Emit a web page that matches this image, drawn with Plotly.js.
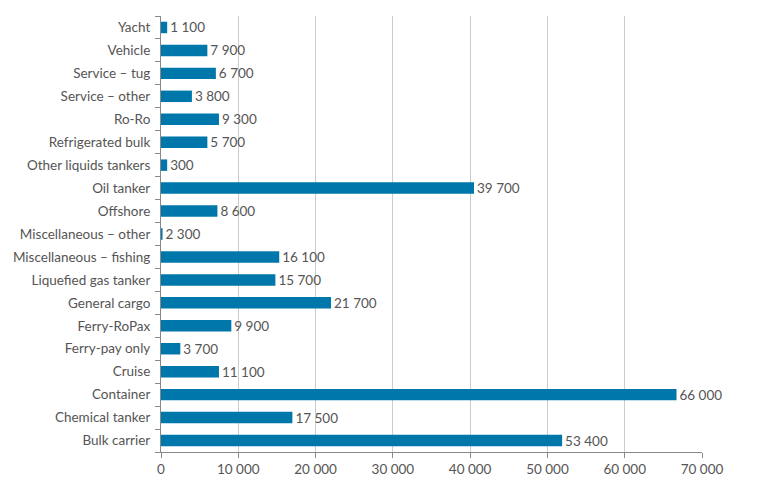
<!DOCTYPE html>
<html>
<head>
<meta charset="utf-8">
<script src="https://cdn.plot.ly/plotly-3.0.1.min.js"></script>
<style>html,body{margin:0;padding:0;background:#fff;}#chart{width:759px;height:483px;}</style>
</head>
<body>
<div id="chart"></div>
<script>
// categories listed bottom to top
const categories = ["Bulk carrier","Chemical tanker","Container","Cruise","Ferry-pay only","Ferry-RoPax","General cargo","Liquefied gas tanker","Miscellaneous – fishing","Miscellaneous – other","Offshore","Oil tanker","Other liquids tankers","Refrigerated bulk","Ro-Ro","Service – other","Service – tug","Vehicle","Yacht"];
// bar lengths as drawn in the picture
const barValues = [51900,17000,66700,7500,2500,9100,22000,14800,15300,200,7300,40500,800,6000,7500,4000,7100,6000,800];
// value labels as printed next to the bars
const valueLabels = ["53 400","17 500","66 000","11 100","3 700","9 900","21 700","15 700","16 100","2 300","8 600","39 700","300","5 700","9 300","3 800","6 700","7 900","1 100"];
const xTickVals = [0,10000,20000,30000,40000,50000,60000,70000];
const xTickText = ["0","10 000","20 000","30 000","40 000","50 000","60 000","70 000"];

const font = "Lato, 'Open Sans', sans-serif";
const trace = {
  type: "bar", orientation: "h",
  y: categories, x: barValues,
  text: valueLabels, textposition: "outside", cliponaxis: false,
  constraintext: "none",
  textfont: {family: font, size: 13.5, color: "#555555"},
  marker: {color: "#0077AA"},
  width: 0.5, hoverinfo: "none"
};
const layout = {
  width: 759, height: 483,
  margin: {l: 161, r: 57, t: 16, b: 31, pad: 0},
  paper_bgcolor: "#fff", plot_bgcolor: "#fff",
  showlegend: false,
  font: {family: font, size: 13.5, color: "#555555"},
  xaxis: {
    range: [0, 70000], tickvals: xTickVals, ticktext: xTickText,
    showgrid: true, gridcolor: "#cccccc", gridwidth: 1.2,
    zeroline: false, showline: true, linecolor: "#888888", linewidth: 1,
    ticks: "outside", ticklen: 5, tickcolor: "#888888",
    tickfont: {family: font, size: 13.5, color: "#555555"}, fixedrange: true
  },
  yaxis: {
    type: "category", categoryorder: "array", categoryarray: categories,
    showgrid: false, zeroline: false, showline: true, linecolor: "#888888", linewidth: 1,
    ticks: "outside", ticklen: 5, tickcolor: "#888888", tickson: "boundaries",
    ticklabelstandoff: 7,
    tickfont: {family: font, size: 13.5, color: "#555555"}, fixedrange: true
  }
};
Plotly.newPlot("chart", [trace], layout, {staticPlot: true, displayModeBar: false});
</script>
</body>
</html>
